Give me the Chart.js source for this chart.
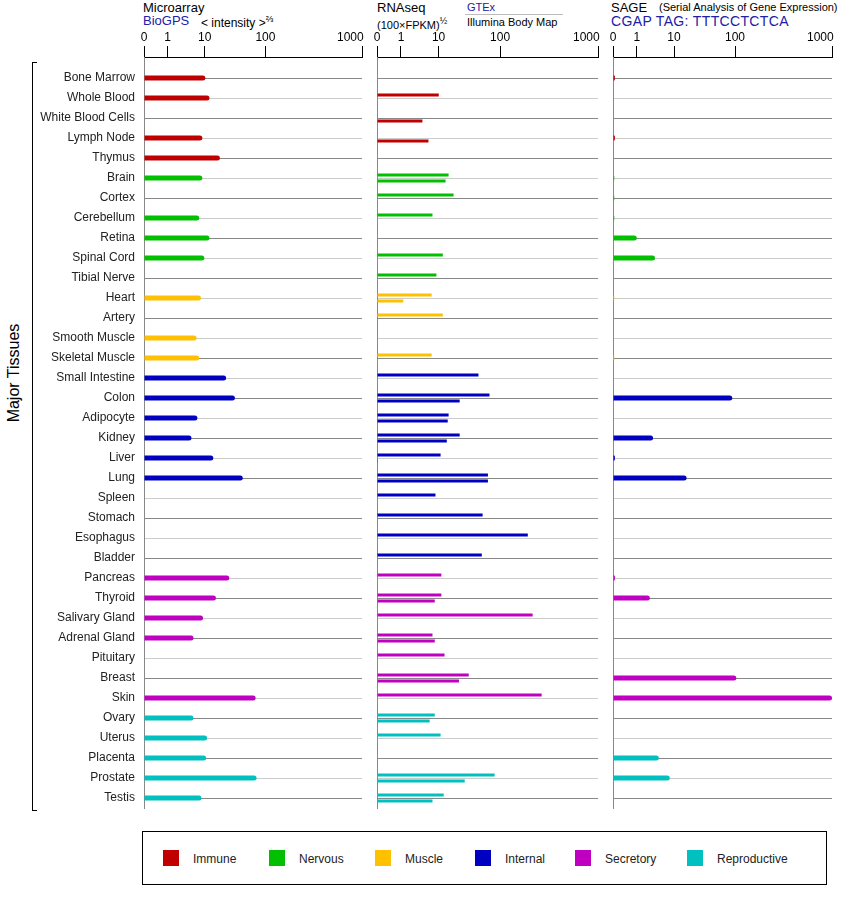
<!DOCTYPE html>
<html>
<head>
<meta charset="utf-8">
<script src="https://cdn.jsdelivr.net/npm/chart.js@4.4.0/dist/chart.umd.min.js"></script>
<style>
  body { margin:0; width:842px; height:900px; overflow:hidden; background:#fff; position:relative;
         font-family:"Liberation Sans", Arial, sans-serif; color:#000; }
  .t { position:absolute; white-space:nowrap; line-height:1; }
  .blue { color:#2020a8; }
  canvas { position:absolute; }
  sup { font-size:9px; vertical-align:5px; }
  #legend { position:absolute; left:142px; top:831px; width:683px; height:52px; border:1px solid #000; }
  .sw { position:absolute; width:16px; height:16px; top:18px; }
  .lt { position:absolute; top:20px; font-size:12px; color:#222; }
</style>
</head>
<body>

<div class="t" style="left:143px;top:1px;font-size:13px">Microarray</div>
<div class="t blue" style="left:143px;top:14px;font-size:13px">BioGPS</div>
<div class="t" style="left:201px;top:15px;font-size:12px">&lt; intensity &gt;<sup>⅔</sup></div>

<div class="t" style="left:377px;top:1px;font-size:13px">RNAseq</div>
<div class="t" style="left:377px;top:17px;font-size:11px">(100×FPKM)<sup>½</sup></div>
<div class="t blue" style="left:467px;top:2px;font-size:11px">GTEx</div>
<div style="position:absolute;left:465px;top:14px;width:98px;height:1px;background:#bbb"></div>
<div class="t" style="left:467px;top:17px;font-size:11px">Illumina Body Map</div>

<div class="t" style="left:611px;top:1px;font-size:13px">SAGE</div>
<div class="t" style="left:659px;top:2px;font-size:11px">(Serial Analysis of Gene Expression)</div>
<div class="t blue" style="left:611px;top:14px;font-size:14px;letter-spacing:0.35px">CGAP TAG: TTTCCTCTCA</div>

<div class="t" style="left:-46px;top:365px;width:120px;text-align:center;font-size:16px;transform:rotate(-90deg)">Major Tissues</div>
<div style="position:absolute;left:32px;top:62px;width:4px;height:747px;border-left:1px solid #000;border-top:1px solid #000;border-bottom:1px solid #000"></div>

<canvas id="micro" width="342" height="782" style="left:36px;top:30px"></canvas>
<canvas id="rna" width="247" height="782" style="left:367px;top:30px"></canvas>
<canvas id="sage" width="245" height="782" style="left:603px;top:30px"></canvas>

<div id="legend"></div>

<script>
const tissues = ['Bone Marrow', 'Whole Blood', 'White Blood Cells', 'Lymph Node', 'Thymus',
  'Brain', 'Cortex', 'Cerebellum', 'Retina', 'Spinal Cord', 'Tibial Nerve',
  'Heart', 'Artery', 'Smooth Muscle', 'Skeletal Muscle',
  'Small Intestine', 'Colon', 'Adipocyte', 'Kidney', 'Liver', 'Lung', 'Spleen', 'Stomach', 'Esophagus', 'Bladder',
  'Pancreas', 'Thyroid', 'Salivary Gland', 'Adrenal Gland', 'Pituitary', 'Breast', 'Skin',
  'Ovary', 'Uterus', 'Placenta', 'Prostate', 'Testis'];
const tissueGroup = [0,0,0,0,0, 1,1,1,1,1,1, 2,2,2,2, 3,3,3,3,3,3,3,3,3,3, 4,4,4,4,4,4,4, 5,5,5,5,5];
const groupNames = ['Immune', 'Nervous', 'Muscle', 'Internal', 'Secretory', 'Reproductive'];
const groupColors = ['#c00000', '#00c000', '#ffc000', '#0000c0', '#c000c0', '#00c0c0'];
const xTicks = [0, 1, 10, 100, 1000];

// BioGPS microarray
const microarray = [10.3, 12.5, 0, 8.9, 19.8,
  8.9, 0, 7.6, 12.5, 9.8, 0,
  8.3, 0, 6.6, 7.6,
  25.6, 35.9, 6.9, 5.0, 14.9, 47.7, 0, 0, 0, 0,
  28.9, 16.7, 9.2, 5.6, 0, 0, 73.5,
  5.6, 11.2, 10.7, 75.8, 8.5];
// RNAseq, GTEx
const gtex = [0, 10.1, 0, 0, 0,
  15.8, 19.5, 7.4, 0, 12.2, 9.0,
  7.1, 12.2, 0, 7.1,
  50, 72, 15.8, 25, 11, 68.5, 8.6, 57.5, 215, 56,
  11.4, 11.4, 243, 7.4, 13.2, 35.3, 303,
  8.3, 11, 0, 84.6, 12.7];
// RNAseq, Illumina Body Map
const illumina = [0, 0, 4.3, 6.0, 0,
  13.8, 0, 0, 0, 0, 0,
  1.2, 0, 0, 0.01,
  0, 25, 15.2, 14.6, 0.01, 68.5, 0, 0, 0, 0,
  0, 8.3, 0, 8.3, 0, 24.3, 0,
  6.4, 0, 0, 30.4, 7.4];
// SAGE
const sage = [0.03, 0, 0, 0.03, 0,
  0.02, 0.02, 0.02, 1.0, 3.6, 0,
  0.02, 0, 0, 0.02,
  0, 92, 0, 3.2, 0.03, 17.7, 0, 0, 0, 0,
  0.03, 2.6, 0, 0, 0, 104, 1000,
  0, 0, 4.5, 8.1, 0];

const legendX = [20, 126, 232, 332, 432, 544];

// axis is a mix of power and log: (v + 0.13)^0.2
const c0 = Math.pow(0.13, 0.2);
const tf = v => Math.pow(Math.max(v, 0) + 0.13, 0.2) - c0;

class TissueScale extends Chart.LinearScale {
  getPixelForValue(value) {
    return this.getPixelForDecimal(tf(value) / tf(this.max));
  }
  getValueForPixel(pixel) {
    const d = this.getDecimalForPixel(pixel) * tf(this.max) + c0;
    return Math.pow(d, 5) - 0.13;
  }
}
TissueScale.id = 'tissue';
Chart.register(TissueScale);

const family = '"Liberation Sans", Arial, sans-serif';
const barColors = tissueGroup.map(g => groupColors[g]);
const points = arr => arr.map((v, i) => ({ x: v, y: i }));
const yMin = -1.05, yMax = tissues.length - 0.5;

function panelOptions(showLabels, yWidth) {
  return {
    indexAxis: 'y',
    responsive: false,
    animation: false,
    layout: { padding: { top: 0, bottom: 4, left: showLabels ? 0 : 10, right: 16 } },
    plugins: { legend: { display: false }, tooltip: { enabled: false } },
    scales: {
      x: {
        type: 'tissue', position: 'top', min: 0, max: 1000,
        afterBuildTicks: s => { s.ticks = xTicks.map(v => ({ value: v })); },
        afterFit: s => { s.height = 27; s.paddingLeft = 0; s.paddingRight = 0; },
        grid: { drawOnChartArea: false, drawTicks: true, tickLength: 11, tickColor: '#000', color: '#000' },
        border: { color: '#000', width: 1 },
        ticks: {
          font: { size: 12, family }, color: '#000', padding: 1, maxRotation: 0, autoSkip: false,
          callback: v => v === 1000 ? '1000       ' : String(v)
        }
      },
      y: {
        type: 'linear', reverse: true, offset: false, min: yMin, max: yMax,
        afterBuildTicks: s => {
          s.ticks = tissues.map((t, i) => ({ value: i }));
          s.min = yMin; s.max = yMax;
        },
        afterFit: s => { s.width = yWidth; s.paddingTop = 0; s.paddingBottom = 0; },
        grid: { offset: false, drawTicks: false, color: c => (c.index % 2 === 0 ? '#888' : '#ccc') },
        border: { color: '#888' },
        ticks: {
          display: showLabels, autoSkip: false, padding: 9, color: '#222',
          font: { size: 12, family }, callback: v => tissues[v]
        }
      }
    }
  };
}

new Chart(document.getElementById('micro'), {
  type: 'bar',
  data: {
    datasets: [{
      label: 'Microarray', data: points(microarray), backgroundColor: barColors,
      barThickness: 5, borderRadius: 3, inflateAmount: 0
    }]
  },
  options: panelOptions(true, 108)
});

new Chart(document.getElementById('rna'), {
  type: 'bar',
  data: {
    datasets: [
      { label: 'GTEx', data: points(gtex), backgroundColor: barColors,
        categoryPercentage: 0.6, barPercentage: 0.5, inflateAmount: 0 },
      { label: 'Illumina Body Map', data: points(illumina), backgroundColor: barColors,
        categoryPercentage: 0.6, barPercentage: 0.5, inflateAmount: 0 }
    ]
  },
  options: panelOptions(false, 0)
});

new Chart(document.getElementById('sage'), {
  type: 'bar',
  data: {
    datasets: [{
      label: 'SAGE', data: points(sage), backgroundColor: barColors,
      barThickness: 5, borderRadius: 3, inflateAmount: 0
    }]
  },
  options: panelOptions(false, 0)
});

const legend = document.getElementById('legend');
groupNames.forEach((name, i) => {
  const sw = document.createElement('div');
  sw.className = 'sw';
  sw.style.left = legendX[i] + 'px';
  sw.style.background = groupColors[i];
  legend.appendChild(sw);
  const lt = document.createElement('div');
  lt.className = 'lt';
  lt.style.left = (legendX[i] + 30) + 'px';
  lt.textContent = name;
  legend.appendChild(lt);
});
</script>
</body>
</html>
